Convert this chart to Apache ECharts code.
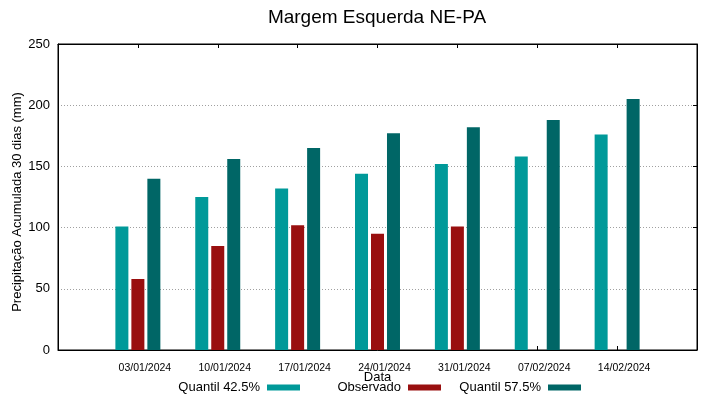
<!DOCTYPE html>
<html>
<head>
<meta charset="utf-8">
<script src="https://cdn.jsdelivr.net/npm/echarts@6/dist/echarts.min.js"></script>
<style>
  html, body { margin: 0; padding: 0; background: #fff; }
  #chart { width: 719px; height: 399px; }
</style>
</head>
<body>
<div id="chart"></div>
<script>
  // dates on the x axis (positions 1..7)
  var dates = ['03/01/2024', '10/01/2024', '17/01/2024', '24/01/2024', '31/01/2024', '07/02/2024', '14/02/2024']
  var quantil425 = [101, 125, 132, 144, 152, 158, 176]
  var observado = [58, 85, 102, 95, 101]
  var quantil575 = [140, 156, 165, 177, 182, 188, 205]
  var yTicks = [0, 50, 100, 150, 200, 250]

  function toPoints(arr) {
    return arr.map(function (v, i) { return [i + 1, v] })
  }

  var font = 'Liberation Sans, Arial, sans-serif'
  var cyan = '#009999'
  var red = '#990f0f'
  var teal = '#006666'

  var chart = echarts.init(document.getElementById('chart'))

  function legendAt(name, right) {
    return {
      data: [name],
      right: right,
      top: 381,
      align: 'right',
      icon: 'rect',
      itemWidth: 33,
      itemHeight: 6,
      itemGap: 0,
      padding: 0,
      selectedMode: false,
      textStyle: { fontFamily: font, fontSize: 13, color: '#000', padding: [0, 2, 0, 0] }
    }
  }

  // gnuplot style ticks pointing into the plot
  var tickIn = { show: true, inside: true, length: 4, lineStyle: { color: '#000' } }

  chart.setOption({
    backgroundColor: '#fff',
    animation: false,
    title: {
      text: 'Margem Esquerda NE-PA',
      left: 372,
      textAlign: 'center',
      top: 3,
      textStyle: { fontFamily: font, fontSize: 19, fontWeight: 'normal', color: '#000' }
    },
    legend: [
      legendAt('Quantil 42.5%', 419),
      legendAt('Observado', 278),
      legendAt('Quantil 57.5%', 138)
    ],
    grid: {
      left: 58,
      right: 22,
      top: 44,
      bottom: 49,
      outerBoundsMode: 'none',
      containLabel: false,
      show: true,
      borderColor: '#000',
      borderWidth: 1,
      backgroundColor: 'transparent'
    },
    xAxis: [{
      type: 'value',
      min: 0,
      max: 8,
      interval: 1,
      name: 'Data',
      nameLocation: 'middle',
      nameMoveOverlap: false,
      nameGap: 21,
      nameTextStyle: { fontFamily: font, fontSize: 13, color: '#000' },
      axisLine: { show: true, onZero: false, lineStyle: { color: '#000' } },
      axisTick: tickIn,
      axisLabel: {
        fontFamily: font,
        fontSize: 10.5,
        color: '#000',
        margin: 13,
        padding: [0, 0, 0, 14],
        formatter: function (v) { return dates[v - 1] || '' }
      },
      splitLine: { show: false }
    }, {
      type: 'value',
      position: 'top',
      min: 0,
      max: 8,
      interval: 1,
      axisLine: { show: true, onZero: false, lineStyle: { color: '#000' } },
      axisTick: tickIn,
      axisLabel: { show: false },
      splitLine: { show: false }
    }],
    yAxis: [{
      type: 'value',
      min: yTicks[0],
      max: yTicks[yTicks.length - 1],
      interval: 50,
      name: 'Precipitação Acumulada 30 dias (mm)',
      nameLocation: 'middle',
      nameMoveOverlap: false,
      nameGap: 34,
      nameTextStyle: { fontFamily: font, fontSize: 13, color: '#000', padding: [0, 10, 0, 0] },
      axisLine: { show: true, onZero: false, lineStyle: { color: '#000' } },
      axisTick: { show: false },
      axisLabel: { fontFamily: font, fontSize: 13, color: '#000', margin: 8 },
      splitLine: { show: true, lineStyle: { color: '#a0a0a0', type: [1, 2], width: 1 } }
    }, {
      type: 'value',
      position: 'right',
      min: yTicks[0],
      max: yTicks[yTicks.length - 1],
      interval: 50,
      axisLine: { show: true, onZero: false, lineStyle: { color: '#000' } },
      axisTick: tickIn,
      axisLabel: { show: false },
      splitLine: { show: false }
    }],
    series: [{
      name: 'Quantil 42.5%',
      type: 'bar',
      barWidth: 13,
      barGap: '23%',
      itemStyle: { color: cyan },
      data: toPoints(quantil425)
    }, {
      name: 'Observado',
      type: 'bar',
      barWidth: 13,
      barGap: '23%',
      itemStyle: { color: red },
      data: toPoints(observado)
    }, {
      name: 'Quantil 57.5%',
      type: 'bar',
      barWidth: 13,
      barGap: '23%',
      itemStyle: { color: teal },
      data: toPoints(quantil575)
    }]
  })
</script>
</body>
</html>
